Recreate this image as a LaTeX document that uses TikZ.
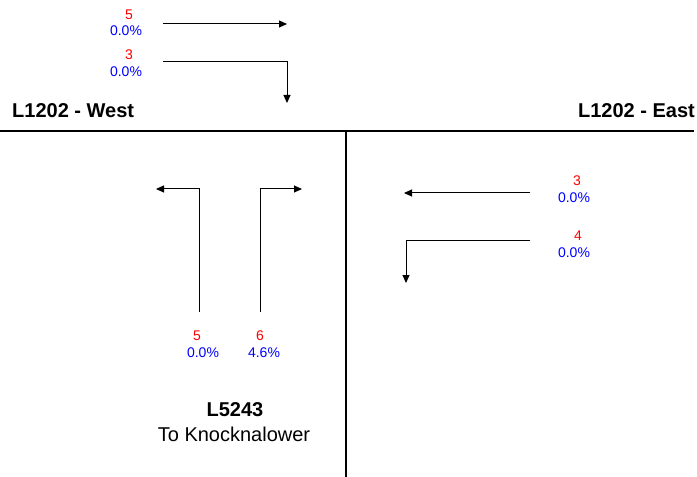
\documentclass[tikz,border=0pt]{standalone}
\usepackage{fontspec}
\setmainfont{Liberation Sans}
\usetikzlibrary{arrows.meta}
\begin{document}
\begin{tikzpicture}[x=1bp,y=-1bp,
  road/.style={line width=2bp,black},
  mv/.style={line width=1bp,black,-{Triangle[length=8bp,width=7bp]}},
  cnt/.style={text=red,font=\fontsize{14bp}{15bp}\selectfont,inner sep=0},
  pct/.style={text=blue,font=\fontsize{14bp}{15bp}\selectfont,inner sep=0},
  head/.style={font=\fontsize{20bp}{22bp}\selectfont\bfseries,inner sep=0},
  sub/.style={font=\fontsize{20bp}{22bp}\selectfont,inner sep=0}]
\useasboundingbox (0,0) rectangle (697,477);
% roads
\coordinate (hl) at (0,131);
\coordinate (hr) at (694,131);
\coordinate (vt) at (346,131);
\coordinate (vb) at (346,477);
\draw[road] (hl) -- (hr);
\draw[road] (vt) -- (vb);
% headings
\node[head,anchor=west] (west) at (12,111) {L1202 - West};
\node[head,anchor=east] (east) at (695,111) {L1202 - East};
\node[head] (south) at (235,410) {L5243};
\node[sub] (southsub) at (234,434) {To Knocknalower};
% west approach
\node[cnt] (w1c) at (129,15) {5};
\node[pct] (w1p) at (126,31) {0.0\%};
\node[cnt] (w2c) at (129,55) {3};
\node[pct] (w2p) at (126,72) {0.0\%};
\coordinate (w1s) at (163,24); \coordinate (w1e) at (287,24);
\coordinate (w2s) at (163,62); \coordinate (w2k) at (287,62); \coordinate (w2e) at (287,103);
\draw[mv] (w1s) -- (w1e);
\draw[mv] (w2s) -- (w2k) -- (w2e);
% east approach
\node[cnt] (e1c) at (577,181) {3};
\node[pct] (e1p) at (574,198) {0.0\%};
\node[cnt] (e2c) at (578,236) {4};
\node[pct] (e2p) at (574,253) {0.0\%};
\coordinate (e1s) at (530,193); \coordinate (e1e) at (404,193);
\coordinate (e2s) at (530,241); \coordinate (e2k) at (406,241); \coordinate (e2e) at (406,283);
\draw[mv] (e1s) -- (e1e);
\draw[mv] (e2s) -- (e2k) -- (e2e);
% south approach
\node[cnt] (s1c) at (197,336) {5};
\node[pct] (s1p) at (203,353) {0.0\%};
\node[cnt] (s2c) at (260,336) {6};
\node[pct] (s2p) at (264,353) {4.6\%};
\coordinate (s1s) at (199,312); \coordinate (s1k) at (199,189); \coordinate (s1e) at (156,189);
\coordinate (s2s) at (260,312); \coordinate (s2k) at (260,189); \coordinate (s2e) at (302,189);
\draw[mv] (s1s) -- (s1k) -- (s1e);
\draw[mv] (s2s) -- (s2k) -- (s2e);
\end{tikzpicture}
\end{document}
